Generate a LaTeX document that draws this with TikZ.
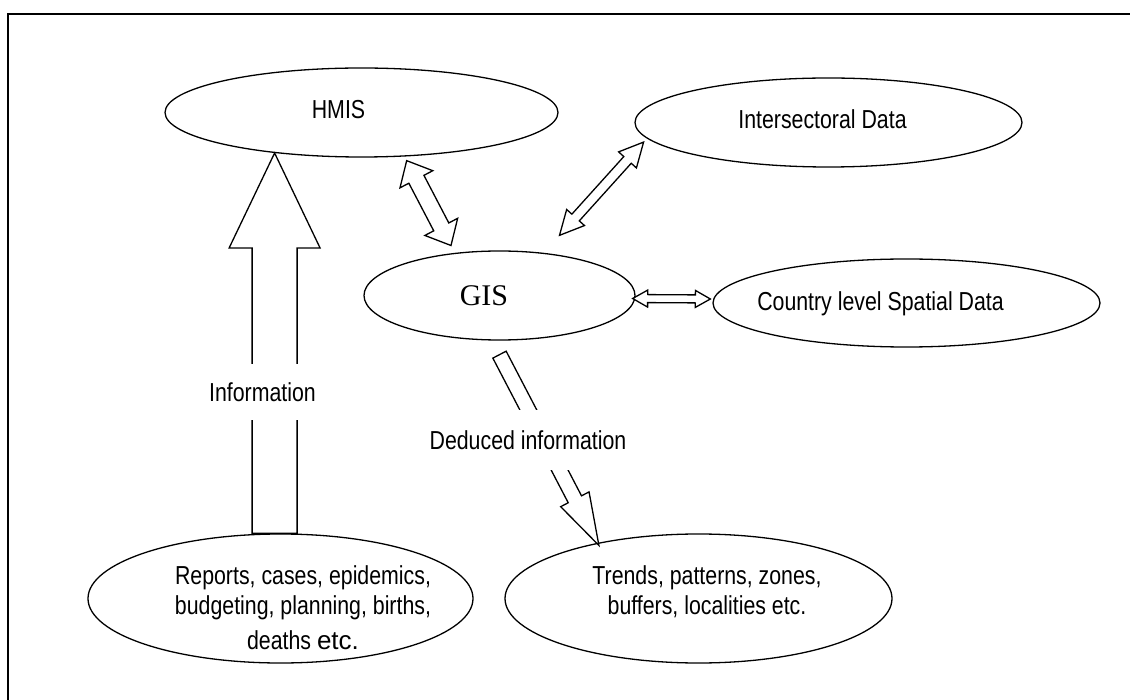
\documentclass[tikz,border=0pt]{standalone}
\usepackage{fontspec}
\setmainfont{Liberation Sans}
\newfontfamily\narrowfont{Liberation Sans}[FakeStretch=0.82]
\newfontfamily\wideSans{Liberation Sans}
\newfontfamily\timesfont{Liberation Serif}
\usetikzlibrary{calc,shapes.geometric}

\newcommand\SingleBlockArrow[5]{%
  \coordinate (sbq) at ($(#2)!#5!(#1)$);
  \draw[blockline] ($(#1)!#3!90:(#2)$) -- ($(sbq)!#3!90:(#2)$) -- ($(sbq)!#4!90:(#2)$) -- (#2)
    -- ($(sbq)!#4!270:(#2)$) -- ($(sbq)!#3!270:(#2)$) -- ($(#1)!#3!270:(#2)$) -- cycle;
}
\newcommand\DoubleBlockArrow[5]{%
  \coordinate (dbqa) at ($(#1)!#5!(#2)$);
  \coordinate (dbqb) at ($(#2)!#5!(#1)$);
  \draw[blockline] (#1) -- ($(dbqa)!#4!90:(#2)$) -- ($(dbqa)!#3!90:(#2)$) -- ($(dbqb)!#3!90:(#2)$)
    -- ($(dbqb)!#4!90:(#2)$) -- (#2) -- ($(dbqb)!#4!270:(#2)$) -- ($(dbqb)!#3!270:(#2)$)
    -- ($(dbqa)!#3!270:(#2)$) -- ($(dbqa)!#4!270:(#2)$) -- cycle;
}

\begin{document}
\begin{tikzpicture}[x=1pt,y=-1pt,
  oval/.style={ellipse, draw, line width=1.3pt, inner sep=0pt},
  blockline/.style={draw, fill=white, line width=1.3pt, line join=miter},
  frameline/.style={line width=1.5pt},
  lbl/.style={font=\narrowfont\fontsize{26}{30}\selectfont, inner sep=0pt},
  gislbl/.style={font=\timesfont\fontsize{30}{34}\selectfont, inner sep=0pt},
  gaplbl/.style={lbl, fill=white, inner xsep=2pt}
]
\useasboundingbox (0,0) rectangle (1130,700);
\draw[frameline] (8,700) -- (8,14) -- (1130,14);

% ellipses
\node[oval, minimum width=393pt, minimum height=89pt] (hmis) at (361.5,112.5) {};
\node[oval, minimum width=387pt, minimum height=89pt] (inter) at (828.5,122.5) {};
\node[oval, minimum width=271pt, minimum height=89pt] (gis) at (499.5,295.5) {};
\node[oval, minimum width=387pt, minimum height=88pt] (country) at (906.5,303) {};
\node[oval, minimum width=385pt, minimum height=129pt] (rep) at (280.5,598.5) {};
\node[oval, minimum width=387pt, minimum height=129pt] (trends) at (698.5,598.5) {};

% texts
\node[lbl, anchor=base] (hmist) at (338.5,119) {HMIS};
\node[lbl, anchor=base] (intert) at (822.5,129) {Intersectoral Data};
\node[lbl, anchor=base] (countryt) at (880.5,311) {Country level Spatial Data};
\node[gislbl, anchor=base] (gist) at (484,306) {GIS};
\node[lbl, anchor=north, align=center] (rept) at (303,565)
  {Reports, cases, epidemics,\\budgeting, planning, births,\\[5pt]deaths {\wideSans etc.}};
\node[lbl, anchor=north, align=center] (trendst) at (707,565)
  {Trends, patterns, zones,\\buffers, localities etc.};

% connector end points
\coordinate (infotip) at (hmis.205);
\coordinate (infotail) at (infotip |- rep.north);
\coordinate (hga) at ($(hmis.313)+(4,4)$);
\coordinate (hgb) at ($(gis.134)+(-7,-7)$);
\coordinate (iga) at ($(inter.186)+(-8,1)$);
\coordinate (igb) at ($(gis.north)+(60,-15)$);
\coordinate (gca) at ($(gis.east)+(-3,3)$);
\coordinate (gcb) at ($(country.west)+(-2,-4)$);
\coordinate (dedtail) at ($(gis.south)+(0,14)$);
\coordinate (dedtip) at ($(trends.152)+(4,2)$);

% arrows
\SingleBlockArrow{infotail}{infotip}{22.5pt}{45.5pt}{95pt}
\DoubleBlockArrow{hga}{hgb}{8.5pt}{18.5pt}{21pt}
\DoubleBlockArrow{iga}{igb}{5pt}{12pt}{24pt}
\DoubleBlockArrow{gca}{gcb}{4pt}{8.5pt}{15pt}
\SingleBlockArrow{dedtail}{dedtip}{7.5pt}{16pt}{52pt}

% arrow labels
\node[gaplbl, minimum height=56pt] (infolbl) at (262.5,392) {Information};
\node[gaplbl, minimum height=59pt] (dedlbl) at (528,440) {Deduced information};
\end{tikzpicture}
\end{document}
